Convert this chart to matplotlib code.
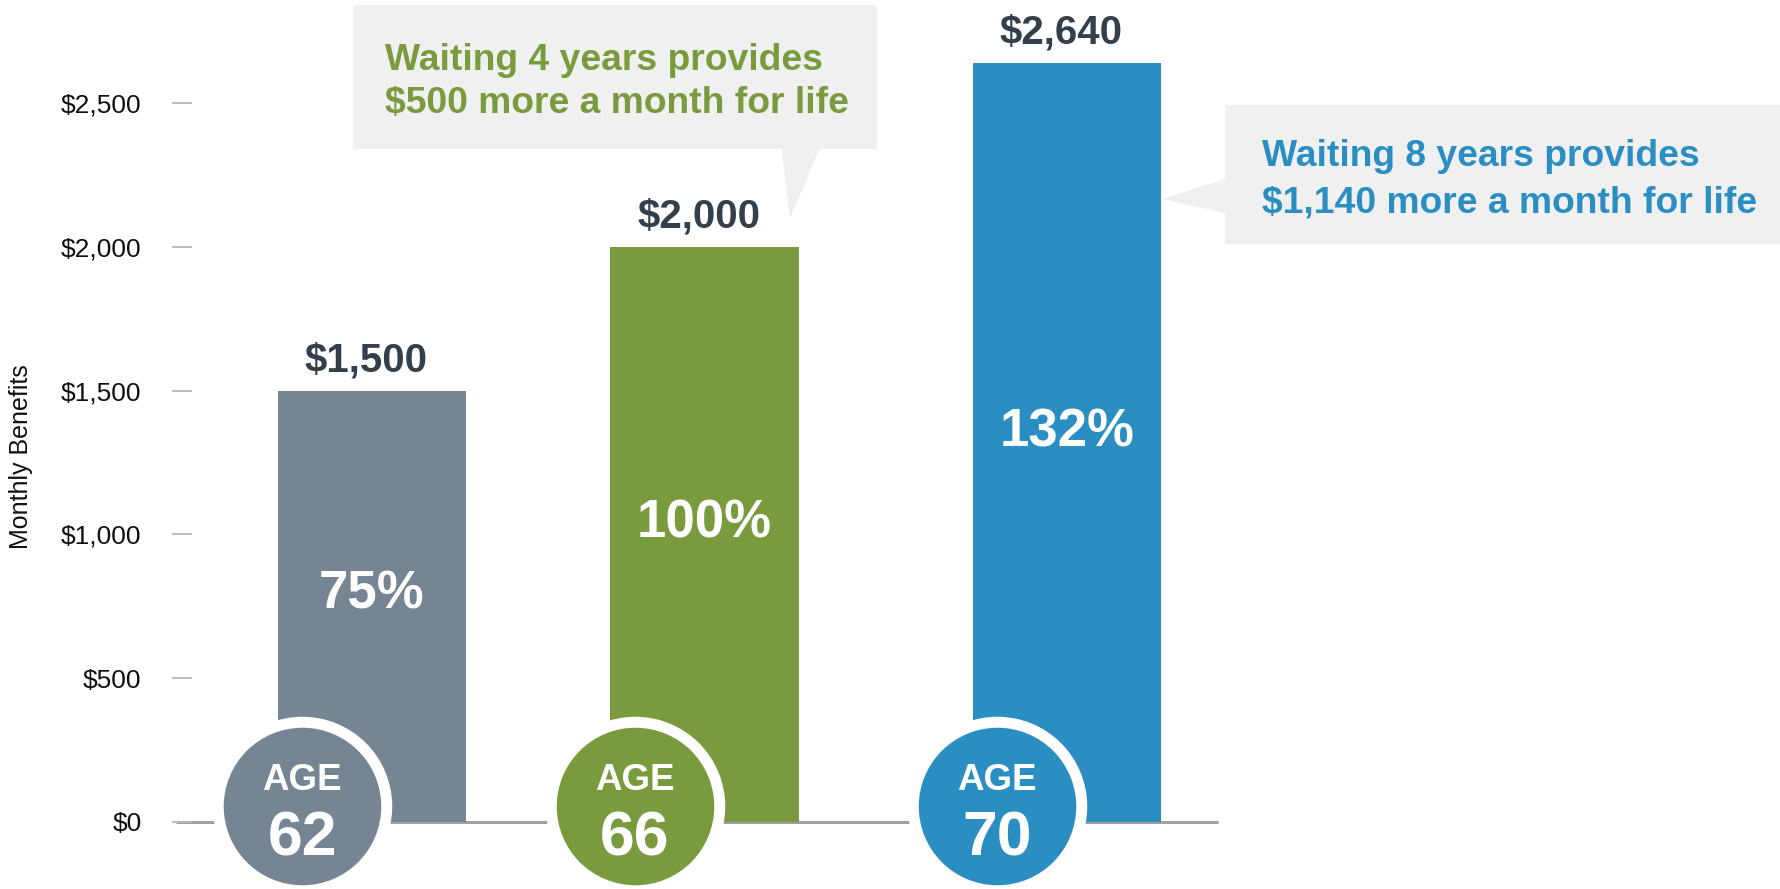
import matplotlib.pyplot as plt
from matplotlib.patches import Polygon

plt.rcParams['font.family'] = ['Liberation Sans', 'DejaVu Sans']

# data
ages = [62, 66, 70]
benefits = [1500, 2000, 2640]
pct_labels = ["75%", "100%", "132%"]
bar_colors = ["#758593", "#7a9a3e", "#2b8ec2"]
yticks = [0, 500, 1000, 1500, 2000, 2500]
callout_lines = [
    ["Waiting 4 years provides", "$500 more a month for life"],
    ["Waiting 8 years provides", "$1,140 more a month for life"],
]

# layout (bar 3 sits a bit further out in the original)
W, H = 1781, 889
positions = [0, 1, 2.09]
bar_width = 0.566
dark = "#333f4b"
box_grey = "#f0f0f0"

fig = plt.figure(figsize=(W / 100, H / 100), dpi=100)
left_px = 171.7
ax = fig.add_axes([left_px / W, 0, (W - left_px) / W, 1])
ax.patch.set_visible(False)
ax.set_xlim(-200.3 / 332.5, (W - 372) / 332.5)
ax.set_ylim(-233, 2858)

for s in ax.spines.values():
    s.set_visible(False)
ax.set_xticks([])
ax.set_yticks(yticks)
ax.set_yticklabels(["${:,}".format(t) for t in yticks])
ax.tick_params(axis='y', direction='in', length=14.6, width=1.3,
               color='#b8b8b8', pad=21.6, labelsize=19, labelcolor='#111111')
ax.set_ylabel("Monthly Benefits", fontsize=18, color='#111111')
ax.yaxis.set_label_coords(-0.0862, 0.486)

# baseline
ax.plot([-0.59, positions[-1] + bar_width / 2 + 0.17], [0, 0],
        color='#a0a0a0', lw=2.2, zorder=1, solid_capstyle='butt')

ax.bar(positions, benefits, width=bar_width, color=bar_colors, zorder=2)

for x, v, p, c, a in zip(positions, benefits, pct_labels, bar_colors, ages):
    ax.annotate("${:,}".format(v), xy=(x, v), xytext=(-4.3, 13.7),
                textcoords='offset points', ha='center', va='baseline',
                fontsize=29, fontweight='bold', color=dark, zorder=4)
    ax.text(x, v * 0.495, p, ha='center', va='baseline', fontsize=38,
            fontweight='bold', color='white', zorder=4)
    cx, cy = x - 0.2105, 57
    ax.scatter([cx], [cy], s=14720, color=c, edgecolor='white',
               linewidth=7.9, zorder=3, clip_on=False)
    ax.annotate("AGE", xy=(cx, cy), xytext=(0, 11.2), textcoords='offset points',
                ha='center', va='baseline', fontsize=26.5, fontweight='bold',
                color='white', zorder=4)
    ax.annotate(str(a), xy=(cx, cy), xytext=(0, -35.6), textcoords='offset points',
                ha='center', va='baseline', fontsize=45, fontweight='bold',
                color='white', zorder=4)


def px(x, y):
    return (x / W, 1 - y / H)


# callout boxes with pointers
c1 = [(353, 5), (877, 5), (877, 149), (819.6, 149), (790, 218), (781.6, 149), (353, 149)]
c2 = [(1225, 105), (W, 105), (W, 244), (1225, 244), (1225, 213), (1162, 199), (1225, 179)]
for pts in (c1, c2):
    fig.add_artist(Polygon([px(*p) for p in pts], closed=True, facecolor=box_grey,
                           edgecolor='none', transform=fig.transFigure, zorder=-1))

text_pos = [(385, [70, 113.3]), (1262, [166, 212])]
for lines, (tx, baselines), col in zip(callout_lines, text_pos, bar_colors[1:]):
    for line, by in zip(lines, baselines):
        fig.text(*px(tx, by), line, ha='left', va='baseline', fontsize=26.8,
                 fontweight='bold', color=col)

fig.savefig("out.png", dpi=100)
